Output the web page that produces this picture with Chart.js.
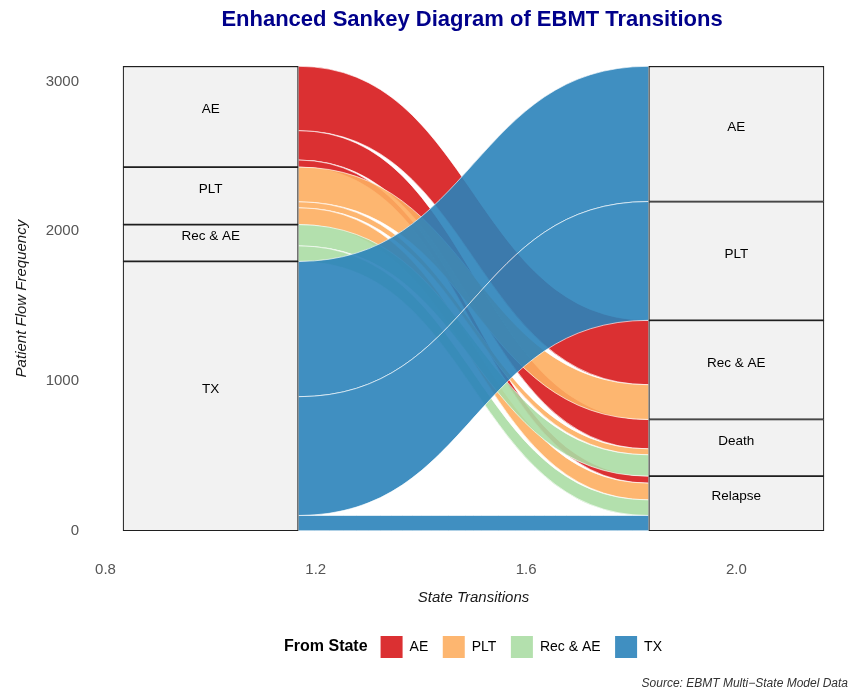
<!DOCTYPE html>
<html>
<head>
<meta charset="utf-8">
<script src="https://cdn.jsdelivr.net/npm/chart.js@4.4.1/dist/chart.umd.min.js"></script>
<style>
  html, body { margin: 0; padding: 0; background: #ffffff; }
  #wrap { width: 859px; height: 691px; }
</style>
</head>
<body>
<div id="wrap"><canvas id="c" width="859" height="691"></canvas></div>
<script>
// ---------------- data ----------------
const fromStates = ['AE', 'PLT', 'Rec & AE', 'TX'];
const toStates = ['AE', 'PLT', 'Rec & AE', 'Death', 'Relapse'];
// patients moving from each source state, listed in the order of toStates
const flowsFromAE    = [0, 0, 430, 196, 47];
const flowsFromPLT   = [0, 0, 232, 40, 112];
const flowsFromRecAE = [0, 0, 0, 142, 104];
const flowsFromTX    = [903, 793, 0, 0, 102];
const xTickValues = [0.8, 1.2, 1.6, 2.0];
const yTickValues = [0, 1000, 2000, 3000];
const axisPositions = [1, 2];

// ---------------- styling ----------------
const fromColors = ['#D7191C', '#FDAE61', '#ABDDA4', '#2B83BA'];
const FLOW_ALPHA = 0.9;
const STRATUM_WIDTH = 1 / 3;
const FONT = '"Liberation Sans", Arial, Helvetica, sans-serif';
const captionText = 'Source: EBMT Multi\u2212State Model Data';

function rgba(hex, a) {
  const n = parseInt(hex.slice(1), 16);
  return `rgba(${(n >> 16) & 255},${(n >> 8) & 255},${n & 255},${a})`;
}

// ---------------- derived layout of strata / lodes ----------------
const flowMatrix = [flowsFromAE, flowsFromPLT, flowsFromRecAE, flowsFromTX];
const leftTotals = flowMatrix.map(r => r.reduce((a, b) => a + b, 0));
const rightTotals = toStates.map((_, j) => flowMatrix.reduce((a, r) => a + r[j], 0));
const grandTotal = leftTotals.reduce((a, b) => a + b, 0);

function stackFromTop(totals, grand) {
  let top = grand;
  return totals.map(t => { const seg = [top - t, top]; top -= t; return seg; });
}
const leftStrata = stackFromTop(leftTotals, grandTotal);
const rightStrata = stackFromTop(rightTotals, grandTotal);

const flows = [];
const leftCursor = leftStrata.map(s => s[1]);
flowMatrix.forEach((row, i) => row.forEach((v, j) => {
  if (!v) return;
  const top = leftCursor[i];
  leftCursor[i] -= v;
  flows.push({ from: i, to: j, value: v, l: [top - v, top], r: null });
}));
const rightCursor = rightStrata.map(s => s[1]);
toStates.forEach((_, j) => {
  fromStates.forEach((_, i) => {
    const f = flows.find(ff => ff.from === i && ff.to === j);
    if (!f) return;
    const top = rightCursor[j];
    rightCursor[j] -= f.value;
    f.r = [top - f.value, top];
  });
});

const strataData = [
  ...fromStates.map((s, k) => ({ x: axisPositions[0], y: leftStrata[k], label: s })),
  ...toStates.map((s, k) => ({ x: axisPositions[1], y: rightStrata[k], label: s }))
];

// ---------------- plugins ----------------
const flowPlugin = {
  id: 'alluvialFlows',
  beforeDatasetsDraw(chart) {
    const xs = chart.scales.x, ys = chart.scales.y, ctx = chart.ctx;
    const x0 = xs.getPixelForValue(axisPositions[0] + STRATUM_WIDTH / 2);
    const x1 = xs.getPixelForValue(axisPositions[1] - STRATUM_WIDTH / 2);
    const xm = (x0 + x1) / 2;
    ctx.save();
    flows.forEach(f => {
      const lt = ys.getPixelForValue(f.l[1]), lb = ys.getPixelForValue(f.l[0]);
      const rt = ys.getPixelForValue(f.r[1]), rb = ys.getPixelForValue(f.r[0]);
      ctx.beginPath();
      ctx.moveTo(x0, lt);
      ctx.bezierCurveTo(xm, lt, xm, rt, x1, rt);
      ctx.lineTo(x1, rb);
      ctx.bezierCurveTo(xm, rb, xm, lb, x0, lb);
      ctx.closePath();
      ctx.fillStyle = rgba(fromColors[f.from], FLOW_ALPHA);
      ctx.fill();
      ctx.strokeStyle = 'rgba(255,255,255,0.9)';
      ctx.lineWidth = 0.7;
      ctx.stroke();
    });
    ctx.restore();
  },
  afterDatasetsDraw(chart) {
    const meta = chart.getDatasetMeta(0), ctx = chart.ctx;
    ctx.save();
    ctx.font = `13.5px ${FONT}`;
    ctx.fillStyle = '#000000';
    ctx.textAlign = 'center';
    ctx.textBaseline = 'middle';
    meta.data.forEach((el, k) => {
      const p = el.getProps(['x', 'y', 'base'], true);
      ctx.fillText(strataData[k].label, p.x, (p.y + p.base) / 2 - 7);
    });
    ctx.restore();
  }
};

const layoutPlugin = {
  id: 'layoutTweaks',
  afterLayout(chart) {
    const tb = chart.titleBlock;
    if (tb) {
      const d = 472 - (tb.left + tb.right) / 2;
      tb.left += d; tb.right += d;
    }
    const cap = chart.boxes.find(b => b !== tb && b.options && b.options.text === captionText);
    if (cap) { cap.left -= 11; cap.right -= 11; }
    const lg = chart.legend;
    if (lg && lg.lineWidths) {
      const ctx = chart.ctx;
      ctx.save();
      ctx.font = `bold 16px ${FONT}`;
      const fsW = ctx.measureText('From State').width;
      ctx.restore();
      const pad = lg.options.labels.padding;
      const lw = lg.lineWidths[0];
      const gap = 13;
      const groupW = fsW + gap + (lw - pad);
      const groupLeft = 473 - groupW / 2;
      const desiredX0 = groupLeft + fsW + gap;
      const curX0 = (lg.left + pad + lg.right - lw) / 2;
      const d = desiredX0 - curX0;
      lg.left += d; lg.right += d;
      chart.$fromStateX = desiredX0 - gap;
    }
  },
  afterDraw(chart) {
    const lg = chart.legend;
    if (!lg || chart.$fromStateX === undefined) return;
    const ctx = chart.ctx;
    ctx.save();
    ctx.font = `bold 16px ${FONT}`;
    ctx.fillStyle = '#000000';
    ctx.textAlign = 'right';
    ctx.textBaseline = 'middle';
    ctx.fillText('From State', chart.$fromStateX, lg.top + lg.options.labels.padding + 11);
    ctx.restore();
  }
};

// ---------------- chart ----------------
Chart.defaults.font.family = FONT;

new Chart(document.getElementById('c'), {
  type: 'bar',
  data: {
    datasets: [{
      label: 'Strata',
      data: strataData,
      grouped: false,
      backgroundColor: '#F2F2F2',
      borderColor: '#1f1f1f',
      borderWidth: 1.2,
      borderSkipped: false,
      barThickness: (ctx) => {
        const xs = ctx.chart.scales.x;
        if (!xs) return 100;
        return Math.abs(xs.getPixelForValue(1 + STRATUM_WIDTH / 2) - xs.getPixelForValue(1 - STRATUM_WIDTH / 2));
      }
    }]
  },
  options: {
    responsive: false,
    animation: false,
    events: [],
    layout: { padding: 0 },
    scales: {
      x: {
        type: 'linear',
        offset: false,
        min: 0.7667,
        max: 2.2333,
        afterBuildTicks: (axis) => { axis.ticks = xTickValues.map(v => ({ value: v })); },
        afterFit: (scale) => { scale.height = 67.5; },
        ticks: {
          callback: (v) => Number(v).toFixed(1),
          color: '#555555',
          font: { size: 15 },
          padding: 7,
          maxRotation: 0,
          autoSkip: false
        },
        grid: { display: false, drawTicks: false },
        border: { display: false },
        title: {
          display: true,
          text: 'State Transitions',
          color: '#1a1a1a',
          font: { size: 15, style: 'italic' },
          padding: { top: 0, bottom: 15 }
        }
      },
      y: {
        type: 'linear',
        min: -155,
        max: 3255,
        afterBuildTicks: (axis) => { axis.ticks = yTickValues.map(v => ({ value: v })); },
        afterFit: (scale) => { scale.width = 88; },
        ticks: {
          callback: (v) => String(v),
          color: '#555555',
          font: { size: 15 },
          padding: 9
        },
        grid: { display: false, drawTicks: false },
        border: { display: false },
        title: {
          display: true,
          text: 'Patient Flow Frequency',
          color: '#1a1a1a',
          font: { size: 15, style: 'italic' },
          padding: { top: 13, bottom: 0 }
        }
      }
    },
    plugins: {
      tooltip: { enabled: false },
      title: {
        display: true,
        text: 'Enhanced Sankey Diagram of EBMT Transitions',
        color: '#00008B',
        font: { size: 22, weight: 'bold' },
        padding: { top: 6.8, bottom: 10 }
      },
      subtitle: {
        display: true,
        text: captionText,
        position: 'bottom',
        align: 'end',
        color: '#333333',
        font: { size: 12, style: 'italic' },
        padding: { top: 8.6, bottom: 0 }
      },
      legend: {
        display: true,
        position: 'bottom',
        labels: {
          boxWidth: 22,
          boxHeight: 22,
          padding: 14.5,
          color: '#1a1a1a',
          font: { size: 14 },
          generateLabels: () => fromStates.map((s, i) => ({
            text: s,
            fillStyle: rgba(fromColors[i], FLOW_ALPHA),
            strokeStyle: 'rgba(0,0,0,0)',
            lineWidth: 0,
            hidden: false,
            datasetIndex: 0
          }))
        }
      }
    }
  },
  plugins: [flowPlugin, layoutPlugin]
});
</script>
</body>
</html>
